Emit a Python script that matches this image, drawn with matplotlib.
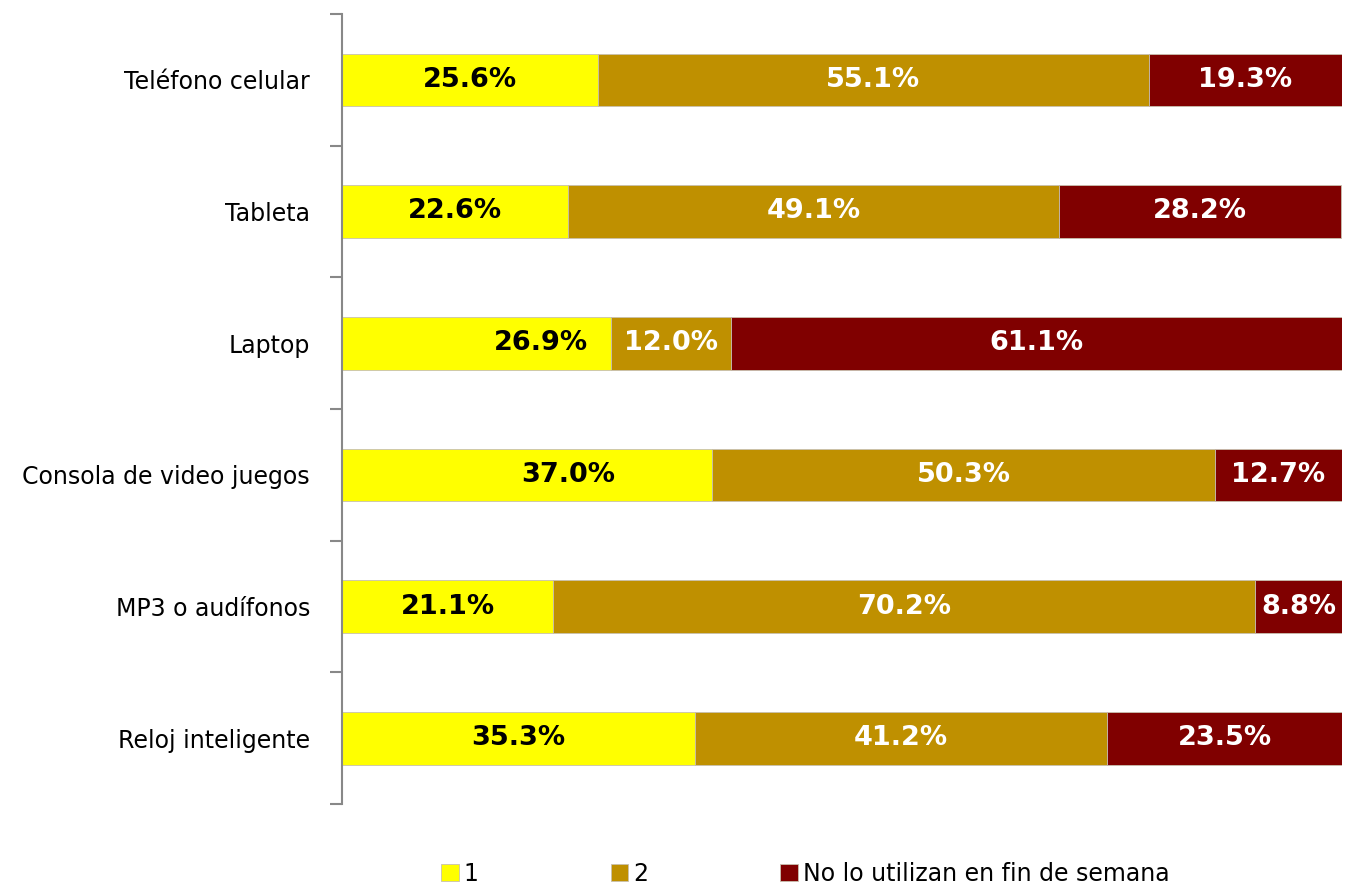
import matplotlib.pyplot as plt
import numpy as np

# Datos
dispositivos = ['Teléfono celular', 'Tableta', 'Laptop', 'Consola de video juegos',
                'MP3 o audífonos', 'Reloj inteligente']
serie_1 = [25.6, 22.6, 26.9, 37.0, 21.1, 35.3]
serie_2 = [55.1, 49.1, 12.0, 50.3, 70.2, 41.2]
no_utilizan = [19.3, 28.2, 61.1, 12.7, 8.8, 23.5]
nombres = ['1', '2', 'No lo utilizan en fin de semana']

colores = ['#FFFF00', '#BF9000', '#800000']
color_texto = ['black', 'white', 'white']

fig = plt.figure(figsize=(13.46, 8.85), dpi=100)
ax = fig.add_axes([342 / 1346, 1 - 804 / 885, 1000 / 1346, 790 / 885])

y = np.arange(len(dispositivos))
left = np.zeros(len(dispositivos))
for serie, nombre, c, ct in zip([serie_1, serie_2, no_utilizan], nombres, colores, color_texto):
    vals = np.array(serie)
    ax.barh(y, vals, left=left, height=0.40, color=c, edgecolor='#c8c0b0',
            linewidth=0.6, label=nombre)
    for i, v in enumerate(vals):
        xc = left[i] + v / 2
        # algunas etiquetas amarillas estan movidas a la derecha en el original
        if c == '#FFFF00' and dispositivos[i] == 'Laptop':
            xc += 6.4
        if c == '#FFFF00' and dispositivos[i] == 'Consola de video juegos':
            xc += 4.1
        ax.text(xc, i, f'{v:.1f}%', ha='center', va='center', color=ct,
                fontsize=19.5, fontweight='bold')
    left += vals

ax.set_xlim(0, 100)
ax.set_ylim(len(dispositivos) - 0.5, -0.5)
ax.set_yticks(y)
ax.set_yticklabels(dispositivos, fontsize=17)
ax.tick_params(axis='y', which='major', length=0, pad=23)
ax.set_yticks(np.arange(-0.5, len(dispositivos)), minor=True)
ax.tick_params(axis='y', which='minor', length=9, color='#888888', width=1.5)
ax.set_xticks([])
for s in ['top', 'right', 'bottom']:
    ax.spines[s].set_visible(False)
ax.spines['left'].set_color('#888888')
ax.spines['left'].set_linewidth(1.5)
ax.patch.set_alpha(0)

fig.legend(loc='lower left', bbox_to_anchor=(420 / 1346, -0.025), ncol=3, frameon=False,
           fontsize=17, handlelength=0.75, handleheight=0.75, handletextpad=0.2,
           columnspacing=5.6)

fig.savefig('out.png', dpi=100)
